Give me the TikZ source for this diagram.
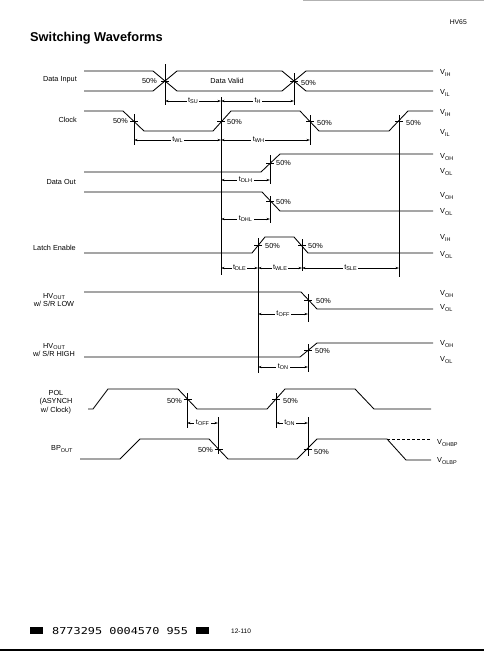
\documentclass[tikz,border=0pt]{standalone}
\usepackage{fontspec}
\setmainfont{Liberation Sans}
\newfontfamily\digitfont{DejaVu Sans Mono}
\usetikzlibrary{arrows.meta}
\newcommand{\sbs}[1]{\raisebox{-0.3ex}{\fontsize{5.5}{5.5}\selectfont #1}}
\newcommand{\xtick}[2]{\draw[refl] ({#1-4},#2) -- ({#1+4},#2);}
\begin{document}
\begin{tikzpicture}[x=1pt,y=-1pt,
  wave/.style={line width=0.85pt, line join=miter},
  refl/.style={line width=0.45pt},
  dim/.style={line width=0.45pt, {Stealth[length=3.5pt,width=2.2pt]}-{Stealth[length=3.5pt,width=2.2pt]}},
  lbl/.style={font=\fontsize{7.3}{8.5}\selectfont, inner sep=0pt},
  tl/.style={font=\fontsize{7.3}{8.5}\selectfont, fill=white, inner sep=1.5pt},
  vl/.style={font=\fontsize{7.3}{8.5}\selectfont, inner sep=0pt, anchor=west}
]
\useasboundingbox (0,0) rectangle (484,651);
\fill[white] (0,0) rectangle (484,651);

% scan edges
\draw[gray!60, line width=1pt] (303,0.5) -- (484,0.5);
\fill (0,649) rectangle (484,651);

% title
\node[anchor=base west, font=\bfseries\fontsize{12.8}{14}\selectfont, inner sep=0pt] (title) at (30,41) {Switching Waveforms};
\node[anchor=base east, font=\fontsize{6.8}{8}\selectfont, inner sep=0pt] (part) at (467,24) {HV65};

% ---------------- Data Input
\node[lbl, anchor=east] (lDI) at (77,80) {Data Input};
\draw[wave] (84,71) -- (153,71) -- (177,91) -- (282,91) -- (306,71) -- (433,71);
\draw[wave] (84,91) -- (153,91) -- (177,71) -- (282,71) -- (306,91) -- (433,91);
\node[lbl] (dv) at (227,81) {Data Valid};
\node[lbl, anchor=east] (p1) at (157,81) {50\%};
\node[lbl, anchor=west] (p2) at (301,83) {50\%};
\node[vl] (vih1) at (440,73) {V\sbs{IH}};
\node[vl] (vil1) at (440,93) {V\sbs{IL}};
\draw[refl] (165,64) -- (165,105);
\draw[refl] (294,73) -- (294,105);
\xtick{165}{81}
\xtick{294}{81}
\draw[dim] (165,101) -- node[tl] (tsu) {t\sbs{SU}} (221,101);
\draw[dim] (221,101) -- node[tl] (th) {t\sbs{H}} (294,101);

% ---------------- Clock
\node[lbl, anchor=east] (lCK) at (77,120) {Clock};
\draw[wave] (84,111) -- (123,111) -- (144,131) -- (213,131) -- (231,111) -- (300,111) -- (319,131) -- (389,131) -- (408,111) -- (433,111);
\node[lbl, anchor=east] (p3) at (128,121) {50\%};
\node[lbl, anchor=west] (p4) at (227,122) {50\%};
\node[lbl, anchor=west] (p5) at (317,123) {50\%};
\node[lbl, anchor=west] (p6) at (406,123) {50\%};
\node[vl] (vih2) at (440,113) {V\sbs{IH}};
\node[vl] (vil2) at (440,133) {V\sbs{IL}};
\draw[refl] (134,114) -- (134,145);
\draw[refl] (310,115) -- (310,145);
\draw[refl] (221,97) -- (221,275);
\draw[refl] (399,115) -- (399,277);
\xtick{134}{121}
\xtick{221}{121}
\xtick{310}{121}
\xtick{399}{121}
\draw[dim] (134,140) -- node[tl] (twl) {t\sbs{WL}} (221,140);
\draw[dim] (221,140) -- node[tl, pos=0.42] (twh) {t\sbs{WH}} (310,140);

% ---------------- Data Out
\node[lbl, anchor=east] (lDO) at (76,182) {Data Out};
\draw[wave] (84,172) -- (261,172) -- (280,154) -- (433,154);
\draw[wave] (84,192) -- (262,192) -- (280,211) -- (433,211);
\node[lbl, anchor=west] (p7) at (276,163) {50\%};
\node[lbl, anchor=west] (p8) at (276,202) {50\%};
\node[vl] (voh1) at (440,157) {V\sbs{OH}};
\node[vl] (vol1) at (440,172) {V\sbs{OL}};
\node[vl] (voh2) at (440,196) {V\sbs{OH}};
\node[vl] (vol2) at (440,212) {V\sbs{OL}};
\draw[refl] (270,155) -- (270,184);
\draw[refl] (270,196) -- (270,223);
\xtick{270}{163}
\xtick{270}{201.5}
\draw[dim] (221,180) -- node[tl] (tdlh) {t\sbs{DLH}} (270,180);
\draw[dim] (221,219) -- node[tl] (tdhl) {t\sbs{DHL}} (270,219);

% ---------------- Latch Enable
\node[lbl, anchor=east] (lLE) at (76,248) {Latch Enable};
\draw[wave] (84,253) -- (252,253) -- (265,237) -- (294,237) -- (308,253) -- (433,253);
\node[lbl, anchor=west] (p9) at (265,246) {50\%};
\node[lbl, anchor=west] (p10) at (308,246) {50\%};
\node[vl] (vih3) at (440,238) {V\sbs{IH}};
\node[vl] (vol3) at (440,255) {V\sbs{OL}};
\draw[refl] (258,238) -- (258,373);
\draw[refl] (302,239) -- (302,271);
\xtick{258}{245}
\xtick{302}{245}
\draw[dim] (221,268) -- node[tl] (tdle) {t\sbs{DLE}} (258,268);
\draw[dim] (258,268) -- node[tl] (twle) {t\sbs{WLE}} (302,268);
\draw[dim] (302,268) -- node[tl] (tsle) {t\sbs{SLE}} (399,268);

% ---------------- HVout w/ S/R LOW
\node[lbl, align=center] (lHL) at (54,300) {HV\sbs{OUT}\\w/ S/R LOW};
\draw[wave] (84,292) -- (301,292) -- (317,309) -- (433,309);
\node[lbl, anchor=west] (p11) at (316,301) {50\%};
\node[vl] (voh3) at (440,294) {V\sbs{OH}};
\node[vl] (vol4) at (440,308) {V\sbs{OL}};
\draw[refl] (308,294) -- (308,322);
\xtick{308}{300.5}
\draw[dim] (258,314) -- node[tl] (toff1) {t\sbs{OFF}} (308,314);

% ---------------- HVout w/ S/R HIGH
\node[lbl, align=center] (lHH) at (54,350) {HV\sbs{OUT}\\w/ S/R HIGH};
\draw[wave] (84,357) -- (300,357) -- (317,343) -- (433,343);
\node[lbl, anchor=west] (p12) at (315,351) {50\%};
\node[vl] (voh4) at (440,344) {V\sbs{OH}};
\node[vl] (vol5) at (440,360) {V\sbs{OL}};
\draw[refl] (308,344) -- (308,372);
\xtick{308}{350}
\draw[dim] (258,367) -- node[tl] (ton1) {t\sbs{ON}} (308,367);

% ---------------- POL
\node[lbl, align=center] (lPOL) at (56,402) {POL\\(ASYNCH\\w/ Clock)};
\draw[wave] (88,409) -- (93,409) -- (108,389) -- (178,389) -- (197,409) -- (267,409) -- (285,389) -- (355,389) -- (374,409) -- (431,409);
\node[lbl, anchor=east] (p13) at (182,401) {50\%};
\node[lbl, anchor=west] (p14) at (283,401) {50\%};
\draw[refl] (187,393) -- (187,428);
\draw[refl] (276,393) -- (276,428);
\xtick{187.5}{399}
\xtick{276}{399}
\draw[refl] (218,417) -- (218,454);
\draw[refl] (308,417) -- (308,456);
\draw[dim] (187,423) -- node[tl] (toff2) {t\sbs{OFF}} (218,423);
\draw[dim] (276,423) -- node[tl, pos=0.42] (ton2) {t\sbs{ON}} (308,423);

% ---------------- BP out
\node[lbl, anchor=west] (lBP) at (51,449) {BP\sbs{OUT}};
\draw[wave] (80,459) -- (120,459) -- (140,439) -- (209,439) -- (228,459) -- (297,459) -- (317,439) -- (387,439) -- (406,460) -- (431,460);
\draw[refl, dash pattern=on 3pt off 2pt] (387,439) -- (431,439);
\node[lbl, anchor=east] (p15) at (213,450) {50\%};
\node[lbl, anchor=west] (p16) at (314,452) {50\%};
\node[vl] (vohbp) at (437,443) {V\sbs{OHBP}};
\node[vl] (volbp) at (437,461) {V\sbs{OLBP}};
\xtick{218.5}{449}
\xtick{307.5}{449}

% ---------------- footer
\fill (30,627) rectangle (43,634);
\node[anchor=west, inner sep=0pt, font=\digitfont\fontsize{9.5}{10}\selectfont] (code) at (52,631) {\scalebox{1.25}[1]{8773295 0004570 955}};
\fill (196,627) rectangle (209,634);
\node[anchor=west, inner sep=0pt, font=\fontsize{6.5}{7}\selectfont] (page) at (231,631) {12-110};
\end{tikzpicture}
\end{document}
